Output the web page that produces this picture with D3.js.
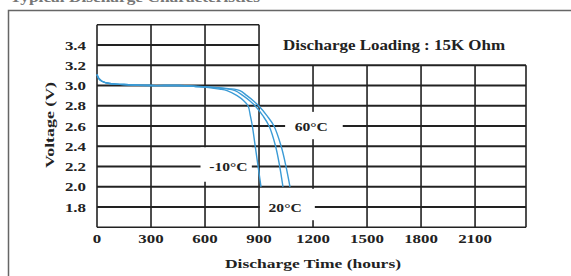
<!DOCTYPE html>
<html><head><meta charset="utf-8">
<script src="https://cdn.jsdelivr.net/npm/d3@7"></script>
<style>
html,body{margin:0;padding:0;background:#fff;}
svg{display:block;font-family:"Liberation Serif","Times New Roman",serif;font-weight:bold;}
</style></head>
<body>
<svg id="c" width="571" height="276"></svg>
<script>
// ---- data ----
const xTicks = [0, 300, 600, 900, 1200, 1500, 1800, 2100];
const yTicks = [1.8, 2.0, 2.2, 2.4, 2.6, 2.8, 3.0, 3.2, 3.4];
const seriesNames = ["-10°C", "60°C", "20°C"];
const tMinus10 = [0, 10, 30, 70, 150, 300, 450, 550, 620, 680, 722, 778, 815, 839, 852, 863, 879, 895, 911];
const vMinus10 = [3.11, 3.07, 3.04, 3.02, 3.01, 3.0, 3.0, 2.99, 2.98, 2.965, 2.95, 2.9, 2.85, 2.8, 2.7, 2.6, 2.4, 2.2, 2.0];
const t60 = [0, 10, 30, 70, 150, 300, 450, 560, 650, 710, 767, 811, 848, 878, 922, 956, 992, 1015, 1033];
const v60 = [3.11, 3.07, 3.04, 3.02, 3.01, 3.0, 3.0, 2.99, 2.98, 2.97, 2.95, 2.9, 2.85, 2.8, 2.7, 2.6, 2.4, 2.2, 2.0];
const t20 = [0, 10, 30, 70, 150, 300, 450, 570, 670, 730, 794, 833, 868, 898, 945, 983, 1023, 1050, 1072];
const v20 = [3.11, 3.07, 3.04, 3.02, 3.01, 3.0, 3.0, 2.99, 2.98, 2.97, 2.95, 2.9, 2.85, 2.8, 2.7, 2.6, 2.4, 2.2, 2.0];
const chartTitle = "Typical Discharge Characteristics";
const loadingText = "Discharge Loading : 15K Ohm";
const xLabel = "Discharge Time (hours)";
const yLabel = "Voltage (V)";

const series = [
  {name: seriesNames[0], t: tMinus10, v: vMinus10},
  {name: seriesNames[1], t: t60, v: v60},
  {name: seriesNames[2], t: t20, v: v20}
];

// ---- layout ----
const svg = d3.select("#c");
const x = d3.scaleLinear().domain([0, 2383]).range([97, 526]);
const y = d3.scaleLinear().domain([1.6, 3.6]).range([227.3, 24.8]);
const ink = "#222";

function widen(sel, target) {
  sel.each(function(){
    const w = this.getComputedTextLength();
    const tl = typeof target === "function" ? target(w) : target;
    d3.select(this).attr("textLength", tl).attr("lengthAdjust", "spacingAndGlyphs");
  });
}

// outer frame
svg.append("path").attr("d", "M8.5,276 V10.5 H571").attr("fill", "none")
  .attr("stroke", "#666").attr("stroke-width", 1.5);

// top title (cut off at the page edge, as in the reference)
svg.append("text").attr("x", 10).attr("y", 2).attr("font-size", 14).attr("fill", "#777")
  .text(chartTitle).call(widen, 250);

const g = svg.append("g");
const splitV = 3.2, splitT = 900;

// horizontal grid lines
const hLines = [1.6].concat(yTicks, [3.6]);
g.selectAll("line.h").data(hLines).join("line")
  .attr("x1", x(0)).attr("x2", d => d > splitV + 0.01 ? x(splitT) : x.range()[1])
  .attr("y1", d => y(d)).attr("y2", d => y(d))
  .attr("stroke", ink).attr("stroke-width", d => (d === 1.6 || d === 3.6) ? 1.5 : 2);

// vertical grid lines
const vLines = xTicks.concat([x.domain()[1]]);
g.selectAll("line.v").data(vLines).join("line")
  .attr("x1", d => x(d)).attr("x2", d => x(d))
  .attr("y1", d => d > splitT ? y(splitV) : y(3.6)).attr("y2", y(1.6))
  .attr("stroke", ink).attr("stroke-width", 1.6);

// curves
const line = d3.line().x(d => x(d[0])).y(d => y(d[1])).curve(d3.curveCatmullRom.alpha(0.5));
svg.selectAll("path.s").data(series).join("path")
  .attr("d", s => line(s.t.map((t, i) => [t, s.v[i]])))
  .attr("fill", "none").attr("stroke", "#3b9bd6").attr("stroke-width", 1.4);

// series labels with white boxes
const labels = [
  {text: seriesNames[0], t: 730, v: 2.2, box: [575, 2.05, 860, 2.39]},
  {text: seriesNames[1], t: 1190, v: 2.6, box: [1045, 2.47, 1365, 2.74]},
  {text: seriesNames[2], t: 1045, v: 1.8, box: [905, 1.67, 1210, 1.98]}
];
svg.selectAll("rect.lb").data(labels).join("rect")
  .attr("x", d => x(d.box[0])).attr("y", d => y(d.box[3]))
  .attr("width", d => x(d.box[2]) - x(d.box[0])).attr("height", d => y(d.box[1]) - y(d.box[3]))
  .attr("fill", "#fff");
svg.selectAll("text.lb").data(labels).join("text")
  .attr("x", d => x(d.t)).attr("y", d => y(d.v) + 4.5)
  .attr("text-anchor", "middle").attr("font-size", 13).attr("fill", ink)
  .text(d => d.text).call(widen, w => w * 1.2);

// loading text
svg.append("text").attr("x", 394).attr("y", 50).attr("text-anchor", "middle")
  .attr("font-size", 14.5).attr("fill", ink).text(loadingText).call(widen, 222);

// tick labels
svg.selectAll("text.xt").data(xTicks).join("text")
  .attr("x", d => x(d)).attr("y", 243).attr("text-anchor", "middle")
  .attr("font-size", 13).attr("fill", ink).text(d => d).call(widen, w => w * 1.3);
svg.selectAll("text.yt").data(yTicks).join("text")
  .attr("x", 86).attr("y", d => y(d) + 4.5).attr("text-anchor", "end")
  .attr("font-size", 13).attr("fill", ink).text(d => d.toFixed(1)).call(widen, w => w * 1.3);

// axis titles
svg.append("text").attr("x", 313).attr("y", 268).attr("text-anchor", "middle")
  .attr("font-size", 13.5).attr("fill", ink).text(xLabel).call(widen, 176);
svg.append("text").attr("transform", "translate(54,125) rotate(-90)").attr("text-anchor", "middle")
  .attr("font-size", 13).attr("fill", ink).text(yLabel).call(widen, 86);
</script>
</body></html>
